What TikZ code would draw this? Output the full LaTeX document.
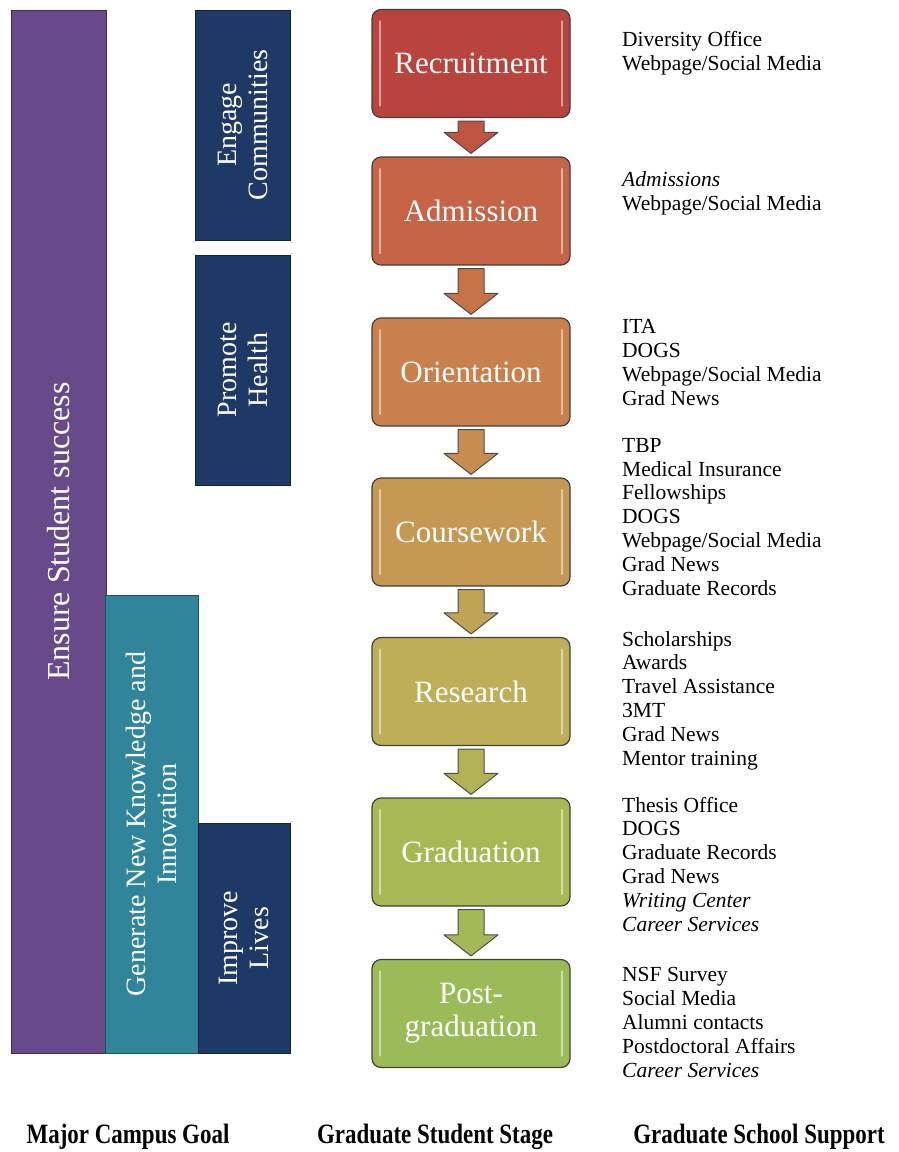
\documentclass[tikz,border=0pt]{standalone}
\usepackage{fontspec}
\setmainfont{Liberation Serif}
\usepackage{graphicx}
\usetikzlibrary{calc}

\definecolor{goalpurple}{RGB}{104,74,138}
\definecolor{goalnavy}{RGB}{31,57,102}
\definecolor{goalteal}{RGB}{49,133,155}
\definecolor{rec}{RGB}{185,68,62}
\definecolor{adm}{RGB}{197,100,70}
\definecolor{ori}{RGB}{201,128,76}
\definecolor{cou}{RGB}{197,152,84}
\definecolor{res}{RGB}{190,174,88}
\definecolor{gra}{RGB}{168,184,82}
\definecolor{pos}{RGB}{155,187,89}

\newcommand{\stagearrow}[3]{%
  \draw[arrowbody, fill=#3] let \p1=(#1.south), \p2=(#2.north) in
    (\x1-13pt,\y1-3pt) -- (\x1+13pt,\y1-3pt) -- (\x1+13pt,\y2+24pt)
    -- (\x1+27pt,\y2+24pt) -- (\x1,\y2+3pt) -- (\x1-27pt,\y2+24pt)
    -- (\x1-13pt,\y2+24pt) -- cycle;}

\begin{document}
\begin{tikzpicture}[x=1pt,y=-1pt,
  goal/.style={rotate=90,fill=#1,draw=#1!60!black,line width=1pt,text=white,
    align=center,inner sep=0pt,font=\fontsize{28}{31}\selectfont},
  stage/.style={fill=#1,draw=black!75,line width=1.2pt,rounded corners=9pt,
    minimum width=198pt,minimum height=108pt,text=white,align=center,
    font=\fontsize{31}{33}\selectfont,
    path picture={\draw[white,opacity=0.5,line width=2.5pt,line cap=round]
      ([xshift=8pt,yshift=-12pt]path picture bounding box.north west) --
      ([xshift=8pt,yshift=12pt]path picture bounding box.south west)
      ([xshift=-8pt,yshift=-12pt]path picture bounding box.north east) --
      ([xshift=-8pt,yshift=12pt]path picture bounding box.south east);}},
  support/.style={anchor=base west,align=left,inner sep=0pt,
    font=\fontsize{21.5}{23.8}\selectfont},
  heading/.style={anchor=base,inner sep=0pt,font=\bfseries\fontsize{28}{30}\selectfont},
  arrowbody/.style={draw=black!70,line width=1pt,line join=round}]
 \useasboundingbox[fill=white] (0,0) rectangle (898,1152);

 \node[goal=goalpurple,minimum width=1043pt,minimum height=95pt,
   font=\fontsize{32}{34}\selectfont] (ensure) at (58.5,531.5) {Ensure Student success};
 \node[goal=goalnavy,minimum width=230pt,minimum height=95pt] (engage) at (242.5,125) {Engage\\Communities};
 \node[goal=goalnavy,minimum width=230pt,minimum height=95pt] (health) at (242.5,370) {Promote\\Health};
 \node[goal=goalteal,minimum width=458pt,minimum height=93pt] (knowledge) at (151.5,824) {Generate New Knowledge and\\Innovation};
 \node[goal=goalnavy,minimum width=230pt,minimum height=92pt] (lives) at (244,938) {Improve\\Lives};

 \node[stage=rec] (recruit) at (471,63.5) {Recruitment};
 \node[stage=adm] (admit) at (471,211) {Admission};
 \node[stage=ori] (orient) at (471,372) {Orientation};
 \node[stage=cou] (course) at (471,532) {Coursework};
 \node[stage=res] (research) at (471,691.5) {Research};
 \node[stage=gra] (grad) at (471,852) {Graduation};
 \node[stage=pos] (postgrad) at (471,1013.5) {Post-\\graduation};

 \stagearrow{recruit}{admit}{rec!50!adm}
 \stagearrow{admit}{orient}{adm!50!ori}
 \stagearrow{orient}{course}{ori!50!cou}
 \stagearrow{course}{research}{cou!50!res}
 \stagearrow{research}{grad}{res!50!gra}
 \stagearrow{grad}{postgrad}{gra!50!pos}

 \node[support] (sup1) at (622,70) {Diversity Office\\Webpage/Social Media};
 \node[support] (sup2) at (622,210) {\textit{Admissions}\\Webpage/Social Media};
 \node[support] (sup3) at (622,405) {ITA\\DOGS\\Webpage/Social Media\\Grad News};
 \node[support] (sup4) at (622,595) {TBP\\Medical Insurance\\Fellowships\\DOGS\\Webpage/Social Media\\Grad News\\Graduate Records};
 \node[support] (sup5) at (622,765) {Scholarships\\Awards\\Travel Assistance\\3MT\\Grad News\\Mentor training};
 \node[support] (sup6) at (622,931) {Thesis Office\\DOGS\\Graduate Records\\Grad News\\\textit{Writing Center}\\\textit{Career Services}};
 \node[support] (sup7) at (622,1077) {NSF Survey\\Social Media\\Alumni contacts\\Postdoctoral Affairs\\\textit{Career Services}};

 \node[heading] (goalhead) at (128,1143) {\scalebox{0.82}[1]{Major Campus Goal}};
 \node[heading] (stagehead) at (435,1143) {\scalebox{0.82}[1]{Graduate Student Stage}};
 \node[heading] (supporthead) at (759,1143) {\scalebox{0.82}[1]{Graduate School Support}};
\end{tikzpicture}
\end{document}
